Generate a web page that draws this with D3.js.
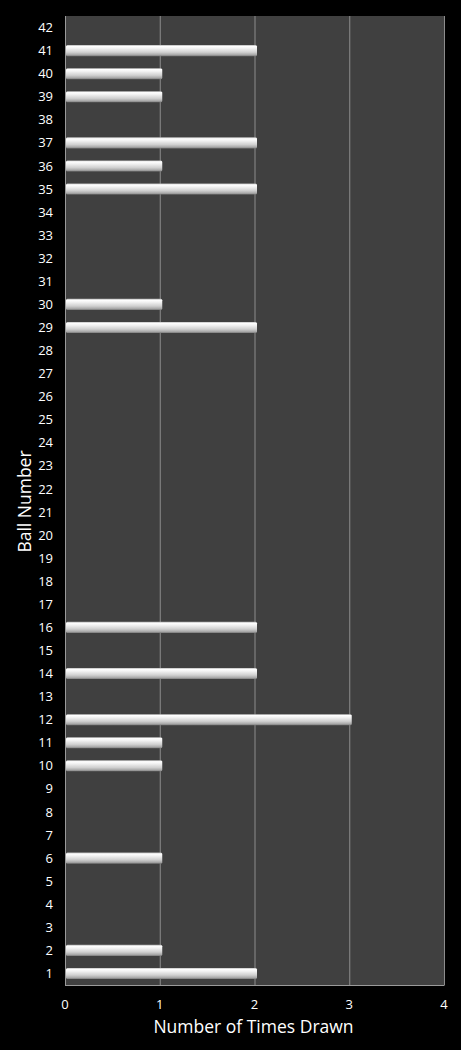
<!DOCTYPE html>
<html>
<head>
<meta charset="utf-8">
<script src="https://cdn.jsdelivr.net/npm/d3@7"></script>
<style>
    html, body { margin: 0; padding: 0; background: #000; }
    text { font-family: "Open Sans", "DejaVu Sans", sans-serif; fill: #fff; }
</style>
</head>
<body>
<svg id="chart" width="461" height="1050"></svg>
<script>
// Ball numbers 1..42 and how often each was drawn
const balls  = d3.range(1, 43);
const counts = [2, 1, 0, 0, 0, 1, 0, 0, 0, 1, 1, 3, 0, 2, 0, 2, 0, 0, 0, 0, 0,
                0, 0, 0, 0, 0, 0, 0, 2, 1, 0, 0, 0, 0, 2, 1, 2, 0, 1, 1, 2, 0];
const xTicks = [0, 1, 2, 3, 4];

const svg = d3.select("#chart");
const margin = {top: 16, right: 17, bottom: 65, left: 65};
const width  = 461 - margin.left - margin.right;
const height = 1050 - margin.top - margin.bottom;

const x = d3.scaleLinear().domain([0, 4]).range([0, width]);
const y = d3.scaleBand()
    .domain(balls.slice().reverse())
    .range([0, height])
    .paddingInner(0.52)
    .paddingOuter(0.26);

// Bar gradient (glossy bevel look)
const defs = svg.append("defs");
const grad = defs.append("linearGradient")
    .attr("id", "barGrad")
    .attr("x1", 0).attr("y1", 0).attr("x2", 0).attr("y2", 1);
[[0, "#b8b8b8"], [0.12, "#ffffff"], [0.3, "#f2f2f2"], [0.65, "#d0d0d0"],
 [0.88, "#a8a8a8"], [1, "#7a7a7a"]].forEach(s => {
    grad.append("stop").attr("offset", s[0]).attr("stop-color", s[1]);
});

const g = svg.append("g")
    .attr("transform", `translate(${margin.left},${margin.top})`);

// Plot background
g.append("rect")
    .attr("width", width)
    .attr("height", height)
    .attr("fill", "#404040");

// Vertical gridlines
g.selectAll("line.grid")
    .data(xTicks.slice(1))
    .enter()
    .append("line")
    .attr("class", "grid")
    .attr("x1", d => x(d) + 0.5).attr("x2", d => x(d) + 0.5)
    .attr("y1", 0).attr("y2", height)
    .attr("stroke", "#8c8c8c")
    .attr("stroke-width", 1);

// Bars
const data = balls.map((b, i) => ({ball: b, count: counts[i]}));
const bar = g.selectAll("g.bar")
    .data(data.filter(d => d.count > 0))
    .enter()
    .append("g")
    .attr("class", "bar");

bar.append("rect")
    .attr("x", 1)
    .attr("y", d => y(d.ball))
    .attr("width", d => x(d.count) + 1.5)
    .attr("height", y.bandwidth())
    .attr("rx", 1.5)
    .attr("fill", "url(#barGrad)");

// Axis lines
g.append("line")
    .attr("x1", 0.5).attr("x2", 0.5)
    .attr("y1", 0).attr("y2", height)
    .attr("stroke", "#9a9a9a");
g.append("line")
    .attr("x1", 0).attr("x2", width + 0.5)
    .attr("y1", height + 0.5).attr("y2", height + 0.5)
    .attr("stroke", "#9a9a9a");

// Y tick labels
g.selectAll("text.ylab")
    .data(balls)
    .enter()
    .append("text")
    .attr("class", "ylab")
    .attr("x", -12)
    .attr("y", d => y(d) + y.bandwidth() / 2)
    .attr("dy", "0.35em")
    .attr("text-anchor", "end")
    .style("font-size", "13px")
    .text(d => d);

// X tick labels
g.selectAll("text.xlab")
    .data(xTicks)
    .enter()
    .append("text")
    .attr("class", "xlab")
    .attr("x", d => x(d))
    .attr("y", height + 24)
    .attr("text-anchor", "middle")
    .style("font-size", "13px")
    .text(d => d);

// Axis titles
svg.append("text")
    .attr("x", margin.left + width / 2 - 1)
    .attr("y", 1033)
    .attr("text-anchor", "middle")
    .style("font-size", "17.5px")
    .text("Number of Times Drawn");

svg.append("text")
    .attr("transform", `translate(31,${margin.top + height / 2 + 1}) rotate(-90)`)
    .attr("text-anchor", "middle")
    .style("font-size", "17.5px")
    .text("Ball Number");
</script>
</body>
</html>
